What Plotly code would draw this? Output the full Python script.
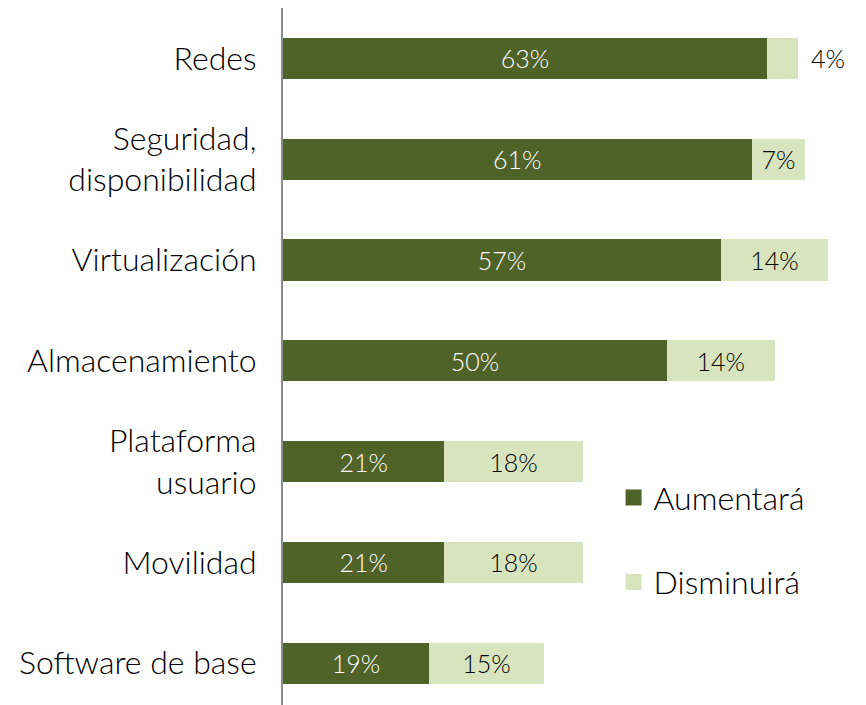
import plotly.graph_objects as go

categories = ["Redes", "Seguridad,<br>disponibilidad", "Virtualización", "Almacenamiento",
              "Plataforma<br>usuario", "Movilidad", "Software de base"]
aumentara = [63, 61, 57, 50, 21, 21, 19]
disminuira = [4, 7, 14, 14, 18, 18, 15]
series_names = ["Aumentará", "Disminuirá"]

DARK = "#4F6228"
LIGHT = "#D7E4BD"
FONT = "Lato"

# bars whose "Disminuirá" label is drawn outside the bar
outside = [d < 5 for d in disminuira]

fig = go.Figure()
fig.add_trace(go.Bar(
    y=categories, x=aumentara, orientation="h", name=series_names[0],
    marker=dict(color=DARK, line=dict(width=0)),
    text=[f"{v}%" for v in aumentara], textposition="inside", insidetextanchor="middle",
    textfont=dict(color="white", size=25, family=FONT, weight=300),
    width=0.41, cliponaxis=False, showlegend=False,
))
fig.add_trace(go.Bar(
    y=categories, x=disminuira, orientation="h", name=series_names[1],
    marker=dict(color=LIGHT, line=dict(width=0)),
    text=["" if o else f"{v}%" for v, o in zip(disminuira, outside)],
    textposition="inside", insidetextanchor="middle",
    textfont=dict(color="black", size=25, family=FONT, weight=300),
    width=0.41, cliponaxis=False, showlegend=False,
))
for cat, a, d, o in zip(categories, aumentara, disminuira, outside):
    if o:
        fig.add_annotation(x=a + d, y=cat, xref="x", yref="y", text=f"{d}%",
                           showarrow=False, xanchor="left", xshift=11,
                           font=dict(color="black", size=25, family=FONT, weight=300))

# legend entries (square swatches)
for name, col, grp in [(series_names[0], DARK, "a"), (series_names[1], LIGHT, "b")]:
    fig.add_trace(go.Scatter(
        x=[None], y=[None], mode="markers", name=name, legendgroup=grp,
        marker=dict(symbol="square", size=19, color=col), showlegend=True,
    ))

fig.update_layout(
    barmode="stack",
    width=858, height=697,
    margin=dict(l=275, r=0, t=0, b=0),
    paper_bgcolor="white", plot_bgcolor="white",
    font=dict(family=FONT, size=32, color="black", weight=300),
    uniformtext=dict(minsize=25, mode="show"),
    showlegend=True,
    legend=dict(x=0.567, y=0.337, xanchor="left", yanchor="top",
                traceorder="grouped", tracegroupgap=40, itemwidth=30,
                font=dict(size=32, family=FONT, weight=300), bgcolor="rgba(0,0,0,0)"),
    xaxis=dict(range=[0, 75.9], showgrid=False, zeroline=False, showticklabels=False,
               showline=False, fixedrange=True, automargin=False),
    yaxis=dict(range=[6.415, -0.5], showgrid=False, zeroline=False, automargin=False,
               showline=True, linecolor="#8C8C8C", linewidth=2,
               ticks="", ticklabelstandoff=18,
               tickfont=dict(size=32, family=FONT, weight=300)),
)

fig.write_html("out.html")
